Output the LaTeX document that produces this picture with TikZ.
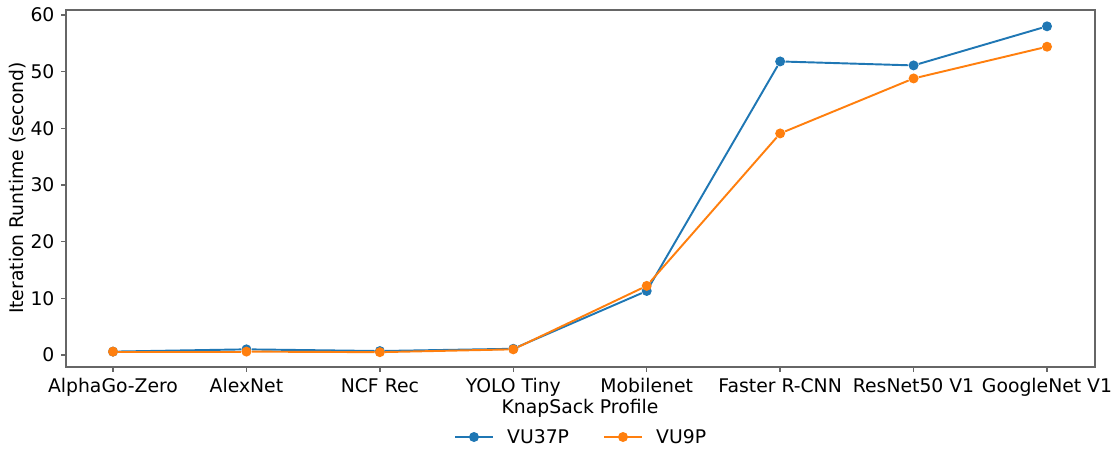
\documentclass[tikz,border=0pt]{standalone}
\usepackage{fontspec}
\setmainfont{DejaVu Sans}
\definecolor{vublue}{HTML}{1F77B4}
\definecolor{vuorange}{HTML}{FF7F0E}
\definecolor{spinegray}{HTML}{666666}
\begin{document}
\begin{tikzpicture}[x=0.02cm, y=-0.02cm]
    % Define styles for the plot
    \tikzstyle{axtick}=[draw=spinegray, line width=0.8pt]
    \tikzstyle{label}=[font=\fontsize{10.7}{12.8}\selectfont, text=black]
    \tikzstyle{marker}=[circle, inner sep=0pt, minimum size=0.2cm]
    \tikzstyle{series}=[line width=1.1pt]

    \useasboundingbox (0,0) rectangle (1115,450);

    % Axes frame
    \coordinate (ll) at (66,367);
    \coordinate (ur) at (1095,10);
    \draw[spinegray, line width=0.8pt] (ll) rectangle (ur);

    % y ticks
    \foreach \v in {0,10,...,60} {
        \coordinate (yt\v) at (66,{355-5.667*\v});
        \draw[axtick] (yt\v) -- ++(-5,0) node[left, label] {\v};
    }

    % x ticks
    \foreach \lab [count=\i from 0] in {AlphaGo-Zero, AlexNet, NCF Rec, YOLO Tiny, Mobilenet, Faster R-CNN, ResNet50 V1, GoogleNet V1} {
        \coordinate (xt\i) at ({113+133.43*\i},367);
        \draw[axtick] (xt\i) -- ++(0,5) node[below, label] {\lab};
    }

    % Axis labels
    \node[label, rotate=90] (ylab) at (18,188) {Iteration Runtime (second)};
    \node[label] (xlab) at (580,408) {KnapSack Profile};

    % VU37P
    \foreach \v [count=\i from 0] in {0.6,1.0,0.7,1.1,11.3,51.8,51.1,58.0}
        \node[marker, fill=vublue] (a\i) at ({113+133.43*\i},{355-5.667*\v}) {};
    \foreach \i [remember=\i as \j (initially 0)] in {1,...,7}
        \draw[series, vublue] (a\j) -- (a\i);

    % VU9P
    \foreach \v [count=\i from 0] in {0.6,0.6,0.5,1.0,12.2,39.1,48.8,54.4}
        \node[marker, fill=vuorange] (b\i) at ({113+133.43*\i},{355-5.667*\v}) {};
    \foreach \i [remember=\i as \j (initially 0)] in {1,...,7}
        \draw[series, vuorange] (b\j) -- (b\i);

    % Legend
    \coordinate (la1) at (455,437);
    \coordinate (la2) at (493,437);
    \draw[series, vublue] (la1) -- (la2);
    \node[marker, fill=vublue] (lam) at (474,437) {};
    \node[label, anchor=west] (lat) at (501,437) {VU37P};

    \coordinate (lb1) at (604,437);
    \coordinate (lb2) at (642,437);
    \draw[series, vuorange] (lb1) -- (lb2);
    \node[marker, fill=vuorange] (lbm) at (623,437) {};
    \node[label, anchor=west] (lbt) at (650,437) {VU9P};

\end{tikzpicture}
\end{document}
